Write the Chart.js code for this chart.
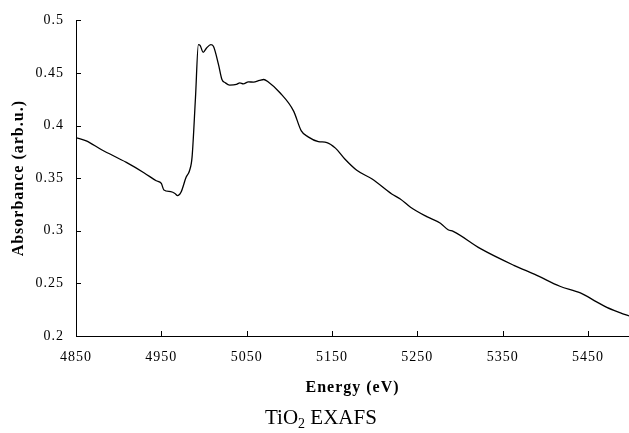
<!DOCTYPE html>
<html><head><meta charset="utf-8">
<script src="https://cdn.jsdelivr.net/npm/chart.js@4"></script>
<style>html,body{margin:0;padding:0;background:#fff}#wrap{width:629px;height:433px}</style>
</head><body><div id="wrap"><canvas id="c" width="629" height="433"></canvas></div>
<script>
const energy = [4850, 4862, 4880, 4909, 4930, 4944, 4950, 4953, 4961, 4966, 4969, 4973, 4979, 4983, 4986, 4990, 4993.4, 4995.4, 4999, 5003, 5008, 5011, 5017, 5021, 5025, 5030, 5038, 5042, 5046, 5052, 5058, 5065, 5070, 5075, 5089, 5105, 5114, 5122, 5134, 5144, 5154, 5165, 5179, 5197, 5220, 5230, 5242, 5261, 5277, 5286, 5292, 5324, 5363, 5390, 5417, 5441, 5460, 5472, 5488, 5498];
const absorbance = [0.3886, 0.3855, 0.377, 0.365, 0.355, 0.3476, 0.345, 0.3388, 0.3372, 0.3355, 0.3334, 0.3366, 0.3508, 0.3571, 0.370, 0.4265, 0.477, 0.4763, 0.4697, 0.4738, 0.477, 0.4754, 0.458, 0.4439, 0.4407, 0.4385, 0.4391, 0.4407, 0.4397, 0.4416, 0.4413, 0.4429, 0.4438, 0.4416, 0.4312, 0.4138, 0.395, 0.3893, 0.3848, 0.3839, 0.3786, 0.3682, 0.3575, 0.3492, 0.335, 0.3303, 0.3224, 0.3135, 0.3072, 0.301, 0.2994, 0.283, 0.2672, 0.2577, 0.2473, 0.241, 0.2325, 0.2272, 0.222, 0.219];
const xTickValues = [4850, 4950, 5050, 5150, 5250, 5350, 5450];
const yTickValues = [0.2, 0.25, 0.3, 0.35, 0.4, 0.45, 0.5];
const yTickLabels = ['0.2', '0.25', '0.3', '0.35', '0.4', '0.45', '0.5'];
const xTitle = 'Energy (eV)';
const yTitle = 'Absorbance (arb.u.)';
const titleParts = ['TiO', '2', ' EXAFS'];

const SERIF = "'Liberation Serif', 'Times New Roman', serif";

const spacingPlugin = {
  id: 'spacing',
  beforeLayout(c) { c.ctx.letterSpacing = '1px'; },
  beforeDraw(c) { c.ctx.letterSpacing = '1px'; }
};

const innerTicks = {
  id: 'innerTicks',
  afterDatasetsDraw(c) {
    const ctx = c.ctx, xs = c.scales.x, ys = c.scales.y;
    ctx.save();
    ctx.strokeStyle = '#000';
    ctx.lineWidth = 1;
    ctx.beginPath();
    xs.ticks.forEach(t => {
      const px = Math.round(xs.getPixelForValue(t.value)) + 0.5;
      ctx.moveTo(px, ys.bottom);
      ctx.lineTo(px, ys.bottom - 5);
    });
    ys.ticks.forEach(t => {
      const py = Math.round(ys.getPixelForValue(t.value)) + 0.5;
      ctx.moveTo(xs.left, py);
      ctx.lineTo(xs.left + 5, py);
    });
    ctx.stroke();
    ctx.restore();
  }
};

const bottomTitle = {
  id: 'bottomTitle',
  afterDraw(c) {
    const ctx = c.ctx;
    ctx.save();
    ctx.letterSpacing = '0px';
    ctx.fillStyle = '#000';
    ctx.textBaseline = 'alphabetic';
    ctx.textAlign = 'left';
    let x = 265, y = 424;
    ctx.font = '21px ' + SERIF;
    ctx.fillText(titleParts[0], x, y);
    x += ctx.measureText(titleParts[0]).width;
    ctx.font = '14px ' + SERIF;
    ctx.fillText(titleParts[1], x, y + 4);
    x += ctx.measureText(titleParts[1]).width;
    ctx.font = '21px ' + SERIF;
    ctx.fillText(titleParts[2], x, y);
    ctx.restore();
  }
};

new Chart(document.getElementById('c'), {
  type: 'line',
  data: {
    datasets: [{
      data: energy.map((e, i) => ({ x: e, y: absorbance[i] })),
      borderColor: '#000',
      borderWidth: 1.3,
      pointRadius: 0,
      fill: false,
      cubicInterpolationMode: 'monotone'
    }]
  },
  options: {
    responsive: false,
    devicePixelRatio: 1,
    animation: false,
    events: [],
    layout: { padding: { top: 19, right: 0, left: 0, bottom: 0 } },
    plugins: { legend: { display: false }, title: { display: false }, tooltip: { enabled: false } },
    scales: {
      x: {
        type: 'linear',
        min: 4850,
        max: 5498,
        afterBuildTicks: s => { s.ticks = xTickValues.map(v => ({ value: v })); },
        afterFit: s => { s.height = 97; },
        grid: { display: false, drawTicks: false },
        border: { display: true, color: '#000', width: 1 },
        ticks: { color: '#000', font: { family: SERIF, size: 14 }, padding: 13, maxRotation: 0, autoSkip: false, callback: v => String(v) },
        title: { display: true, text: xTitle, color: '#000', font: { family: SERIF, size: 16, weight: 'bold' }, padding: { top: 0, bottom: 36 } }
      },
      y: {
        type: 'linear',
        min: 0.2,
        max: 0.5,
        afterBuildTicks: s => { s.ticks = yTickValues.map(v => ({ value: v })); },
        afterFit: s => { s.width = 76; },
        grid: { display: false, drawTicks: false },
        border: { display: true, color: '#000', width: 1 },
        ticks: { color: '#000', font: { family: SERIF, size: 14 }, padding: 12, autoSkip: false, callback: (v, i) => yTickLabels[i] },
        title: { display: true, text: yTitle, color: '#000', font: { family: SERIF, size: 16, weight: 'bold' }, padding: { top: 9, bottom: 0 } }
      }
    }
  },
  plugins: [spacingPlugin, innerTicks, bottomTitle]
});
</script>
</body></html>
